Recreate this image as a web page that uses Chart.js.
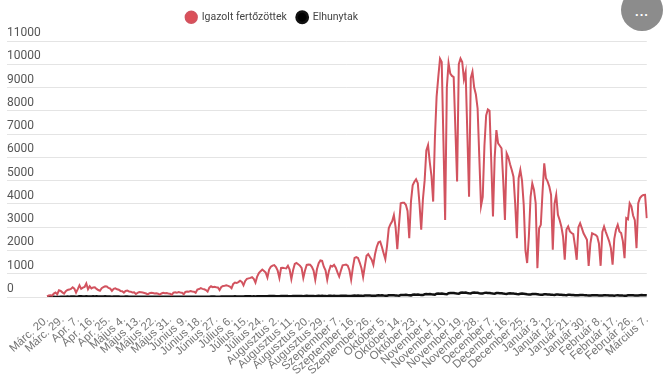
<!DOCTYPE html>
<html>
<head>
<meta charset="utf-8">
<script src="https://cdn.jsdelivr.net/npm/chart.js@4"></script>
<style>
  body { margin: 0; background: #fff; }
  #wrap { position: relative; width: 664px; height: 385px; overflow: hidden; }
  #more {
    position: absolute; left: 621px; top: -11px; width: 42px; height: 42px;
    border-radius: 50%; background: #8c8c8c; color: #fff;
    font: bold 13px 'Liberation Sans', sans-serif; text-align: center; line-height: 46px;
    letter-spacing: 1px;
  }
</style>
</head>
<body>
<div id="wrap">
  <canvas id="myChart"></canvas>
  <div id="more">...</div>
</div>
<script>
const tickLabels = ['Márc. 20.', 'Márc. 29.', 'Apr. 7.', 'Apr. 16.', 'Apr. 25.', 'Május 4.', 'Május 13.',
  'Május 22.', 'Május 31.', 'Június 9.', 'Június 18.', 'Június 27.', 'Július 6.', 'Július 15.',
  'Július 24.', 'Augusztus 2.', 'Augusztus 11.', 'Augusztus 20.', 'Augusztus 29.', 'Szeptember 7.',
  'Szeptember 16.', 'Szeptember 26.', 'Október 5.', 'Október 14.', 'Október 23.', 'November 1.',
  'November 10.', 'November 19.', 'November 28.', 'December 7.', 'December 16.', 'December 25.',
  'Január 3.', 'Január 12.', 'Január 21.', 'Január 30.', 'Február 8.', 'Február 17.', 'Február 26.',
  'Március 7.'];

// daily confirmed cases, one line per week
const confirmed = [
  30, 65, 70, 55, 145, 190, 120,
  290, 260, 200, 150, 250, 300, 320,
  350, 420, 360, 190, 340, 500, 350,
  400, 430, 580, 330, 460, 370, 410,
  420, 350, 300, 270, 380, 420, 460,
  450, 390, 360, 260, 350, 370, 330,
  310, 260, 250, 190, 260, 280, 240,
  230, 190, 200, 130, 180, 210, 200,
  190, 170, 150, 110, 160, 180, 170,
  150, 160, 140, 100, 150, 180, 160,
  170, 150, 140, 90, 190, 200, 180,
  210, 190, 180, 120, 220, 240, 230,
  260, 240, 230, 180, 320, 340, 380,
  350, 330, 300, 230, 400, 460, 420,
  440, 420, 410, 300, 430, 470, 480,
  500, 480, 450, 380, 560, 620, 600,
  640, 700, 650, 500, 690, 780, 800,
  820, 850, 780, 620, 880, 1030, 1110,
  1180, 1120, 1050, 840, 1180, 1300, 1350,
  1370, 1290, 1130, 820, 1250, 1260, 1240,
  1230, 1340, 1180, 770, 1150, 1420, 1460,
  1410, 1350, 1250, 820, 1140, 1380, 1400,
  1390, 1300, 1140, 740, 1200, 1450, 1570,
  1550, 1300, 1150, 740, 1120, 1340, 1310,
  1380, 1260, 1060, 880, 1140, 1360, 1380,
  1390, 1350, 1150, 740, 1260, 1680, 1710,
  1680, 1480, 1250, 860, 1330, 1770, 1840,
  1720, 1600, 1380, 1850, 2160, 2350, 2380,
  2150, 1880, 1630, 2200, 2950, 3130, 3250,
  3520, 3000, 2050, 3100, 4030, 4050, 4050,
  3960, 3700, 2530, 4100, 4800, 4950, 5060,
  4890, 4000, 2890, 4200, 5000, 6300, 6530,
  5800, 5200, 4100, 6800, 8600, 9460, 10240,
  10100, 6700, 3310, 9000, 10050, 9600, 9500,
  9450, 7200, 4960, 10000, 10250, 10100, 9350,
  9670, 7000, 4310, 9400, 9680, 9000, 8700,
  8100, 6000, 3910, 4300, 6500, 7800, 8060,
  8000, 5800, 3460, 6000, 7170, 6600, 6500,
  6390, 5000, 3310, 6170, 6000, 5700, 5460,
  5170, 4000, 2530, 5100, 5460, 5000, 3960,
  2000, 1460, 2600, 4300, 4880, 4600, 4030,
  1240, 2950, 3100, 4500, 5740, 5100, 4960,
  4740, 4390, 2030, 4000, 4390, 3530, 3310,
  3030, 2600, 1600, 2900, 3030, 2820, 2750,
  2700, 2200, 1600, 3000, 3170, 2960, 2740,
  2600, 2460, 1340, 2300, 2740, 2700, 2670,
  2600, 2300, 1340, 2800, 3030, 2800, 2600,
  2390, 2100, 1390, 2500, 2900, 3100, 2820,
  2750, 2400, 1670, 3390, 3340, 4030, 3900,
  3500, 3300, 2100, 4030, 4250, 4340, 4380,
  4390, 3390
];

// daily deaths, same days
const deaths = [
  1, 2, 3, 2, 6, 4, 6,
  4, 8, 11, 9, 15, 17, 14,
  18, 22, 18, 15, 20, 27, 30,
  23, 24, 28, 21, 20, 24, 27,
  23, 30, 24, 18, 20, 24, 31,
  27, 18, 22, 15, 21, 24, 17,
  20, 15, 14, 12, 17, 21, 14,
  16, 12, 14, 11, 16, 15, 13,
  12, 13, 10, 9, 14, 12, 11,
  10, 12, 8, 9, 13, 11, 10,
  9, 7, 8, 10, 12, 9, 8,
  9, 11, 7, 8, 10, 13, 12,
  11, 9, 10, 12, 14, 15, 13,
  16, 12, 14, 11, 15, 17, 18,
  19, 16, 15, 14, 20, 21, 23,
  22, 18, 20, 17, 25, 27, 24,
  26, 23, 21, 19, 28, 30, 27,
  29, 25, 27, 22, 30, 34, 32,
  35, 31, 33, 28, 38, 42, 39,
  41, 36, 34, 30, 43, 45, 40,
  44, 39, 37, 32, 46, 48, 42,
  45, 41, 38, 35, 47, 50, 44,
  46, 42, 40, 36, 48, 52, 47,
  49, 44, 41, 37, 50, 53, 48,
  51, 46, 43, 39, 52, 55, 50,
  54, 48, 45, 41, 56, 60, 58,
  62, 55, 50, 46, 63, 67, 61,
  65, 58, 54, 49, 68, 72, 66,
  70, 62, 58, 54, 75, 80, 76,
  78, 69, 63, 59, 84, 90, 86,
  92, 82, 75, 70, 98, 105, 101,
  108, 97, 89, 84, 118, 125, 120,
  128, 114, 106, 99, 140, 150, 143,
  152, 137, 125, 118, 165, 172, 168,
  175, 160, 149, 141, 180, 190, 183,
  188, 170, 160, 152, 185, 192, 186,
  182, 165, 155, 147, 178, 184, 176,
  172, 158, 148, 140, 168, 174, 165,
  160, 146, 137, 130, 155, 160, 152,
  148, 135, 126, 120, 140, 146, 138,
  130, 118, 112, 108, 128, 132, 125,
  117, 106, 100, 96, 115, 120, 112,
  108, 98, 92, 88, 104, 108, 101,
  97, 88, 82, 79, 93, 97, 90,
  86, 78, 74, 71, 84, 88, 81,
  78, 71, 67, 64, 76, 80, 74,
  72, 66, 63, 60, 72, 76, 70,
  69, 63, 60, 58, 70, 74, 69,
  68, 62, 59, 57, 71, 76, 72,
  73, 67, 64, 61, 78, 82, 77,
  80, 74
];

const labels = confirmed.map((v, i) => (i % 9 === 0 ? tickLabels[i / 9] : ''));

// move the legend row to where the original sits
const legendShift = {
  id: 'legendShift',
  afterLayout(chart) {
    chart.legend.left = 176;
    chart.legend.top = 2;
  }
};

const ctx = document.getElementById('myChart');

new Chart(ctx, {
  type: 'line',
  data: {
    labels: labels,
    datasets: [{
      label: 'Igazolt fertőzöttek',
      data: confirmed,
      borderColor: '#d2535f',
      backgroundColor: '#dc4f58',
      borderWidth: 2,
      pointRadius: 0,
      tension: 0,
      fill: false,
    }, {
      label: 'Elhunytak',
      data: deaths,
      borderColor: '#111',
      backgroundColor: '#000',
      borderWidth: 2.5,
      pointRadius: 0,
      tension: 0,
      fill: false,
    }]
  },
  options: {
    responsive: true,
    maintainAspectRatio: false,
    animation: false,
    layout: { padding: { left: 7, right: 8, top: 0, bottom: 0 } },
    scales: {
      x: {
        grid: { display: false },
        border: { display: false },
        ticks: {
          autoSkip: false,
          minRotation: 42,
          maxRotation: 42,
          padding: 8,
          color: '#767676',
          font: { family: 'Liberation Sans', size: 11.5 },
        },
        afterFit: (s) => { s.height = 88; },
      },
      y: {
        min: 0,
        max: 11000,
        border: { display: false },
        grid: { color: '#e4e4e4', tickLength: 40, drawTicks: true },
        ticks: {
          stepSize: 1000,
          crossAlign: 'far',
          padding: 0,
          labelOffset: -8,
          color: '#555',
          font: { family: 'Roboto', size: 12 },
          callback: (v) => v,
        },
        afterFit: (s) => { s.width = 40; s.paddingTop = 41; },
      },
    },
    plugins: {
      legend: {
        display: true,
        position: 'top',
        align: 'start',
        labels: {
          usePointStyle: true,
          pointStyle: 'circle',
          boxWidth: 11,
          boxHeight: 8,
          padding: 10,
          color: '#444',
          font: { family: 'Roboto', size: 10.5 },
        }
      },
      tooltip: { enabled: false },
    },
  },
  plugins: [legendShift]
});
</script>
</body>
</html>
